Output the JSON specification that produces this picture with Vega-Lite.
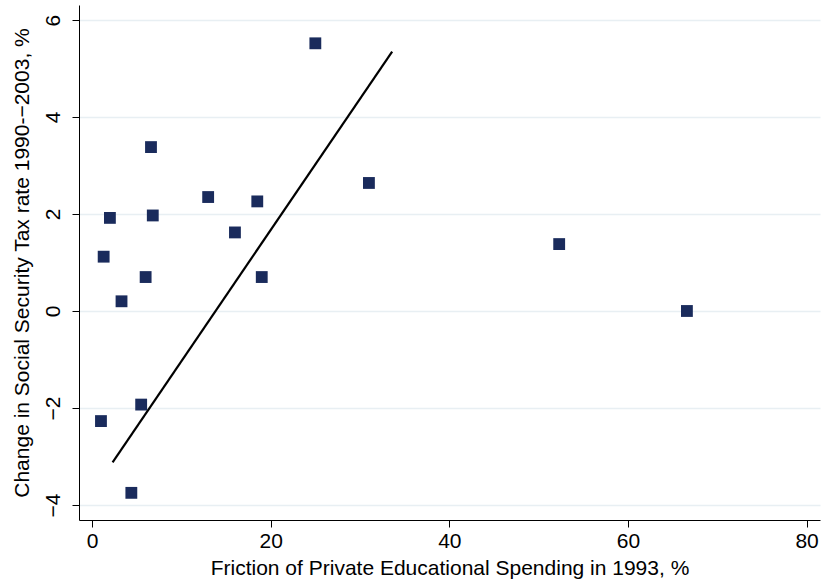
{
  "$schema": "https://vega.github.io/schema/vega-lite/v6.json",
  "autosize": "none",
  "width": 741,
  "height": 515,
  "padding": {"left": 79, "top": 5, "right": 4, "bottom": 66},
  "background": "white",
  "config": {
    "view": {"stroke": null},
    "font": "Liberation Sans"
  },
  "datasets": {
    "pts": [
      {"x": 1.0, "y": -2.27},
      {"x": 1.3, "y": 1.12},
      {"x": 2.0, "y": 1.92},
      {"x": 3.3, "y": 0.2},
      {"x": 4.4, "y": -3.75},
      {"x": 5.5, "y": -1.93},
      {"x": 6.0, "y": 0.7},
      {"x": 6.6, "y": 3.38},
      {"x": 6.8, "y": 1.97},
      {"x": 13.0, "y": 2.35},
      {"x": 16.0, "y": 1.62},
      {"x": 18.5, "y": 2.26},
      {"x": 19.0, "y": 0.7},
      {"x": 25.0, "y": 5.52},
      {"x": 31.0, "y": 2.64},
      {"x": 52.3, "y": 1.38},
      {"x": 66.6, "y": 0.0}
    ],
    "fit": [
      {"x": 2.3, "y": -3.12},
      {"x": 33.6, "y": 5.35}
    ]
  },
  "layer": [
    {
      "data": {"name": "pts"},
      "mark": {"type": "point", "shape": "square", "filled": true, "opacity": 1, "color": "#1a2b5c", "size": 140},
      "encoding": {
        "x": {
          "field": "x", "type": "quantitative",
          "scale": {"domain": [-1.46, 81.5], "nice": false, "zero": false},
          "axis": {
            "values": [0, 20, 40, 60, 80],
            "title": "Friction of Private Educational Spending in 1993, %",
            "titleFont": "Liberation Sans", "titleFontSize": 21, "titleFontWeight": "normal", "titleColor": "black", "titlePadding": 6,
            "labelFont": "Liberation Sans", "labelFontSize": 21, "labelColor": "black", "labelPadding": 3,
            "grid": false, "domainColor": "black", "domainWidth": 1, "tickColor": "black", "tickSize": 7, "labelFlush": false
          }
        },
        "y": {
          "field": "y", "type": "quantitative",
          "scale": {"domain": [-4.31, 6.31], "nice": false, "zero": false},
          "axis": {
            "values": [-4, -2, 0, 2, 4, 6],
            "labelExpr": "replace(datum.label, '-', '−')",
            "title": "Change in Social Security Tax rate 1990-−2003, %",
            "titleFont": "Liberation Sans", "titleFontSize": 21, "titleFontWeight": "normal", "titleColor": "black", "titlePadding": 10,
            "labelFont": "Liberation Sans", "labelFontSize": 21, "labelColor": "black", "labelPadding": 9,
            "labelAngle": -90, "labelAlign": "center", "labelBaseline": "bottom",
            "grid": true, "gridColor": "#e8eff3", "gridWidth": 1.5,
            "domainColor": "black", "domainWidth": 1, "tickColor": "black", "tickSize": 7, "labelFlush": false
          }
        }
      }
    },
    {
      "data": {"name": "fit"},
      "mark": {"type": "line", "color": "black", "strokeWidth": 2.2},
      "encoding": {
        "x": {"field": "x", "type": "quantitative"},
        "y": {"field": "y", "type": "quantitative"}
      }
    }
  ]
}
